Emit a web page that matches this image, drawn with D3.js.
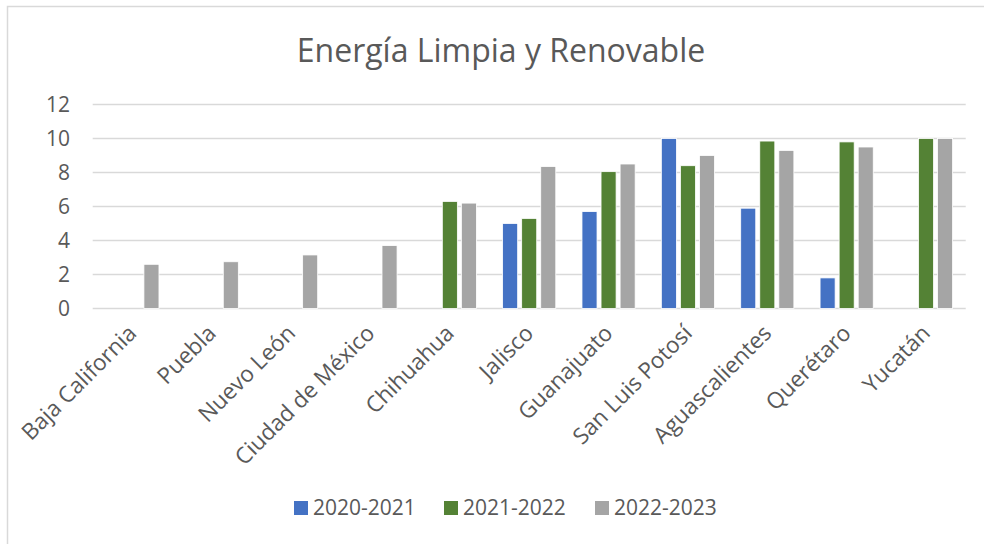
<!DOCTYPE html>
<html>
<head>
<meta charset="utf-8">
<script src="https://cdn.jsdelivr.net/npm/d3@7"></script>
<style>
  body { margin: 0; background: #fff; }
  text { font-family: "Open Sans", sans-serif; fill: #595959; }
</style>
</head>
<body>
<svg id="chart" width="984" height="544"></svg>
<script>
var states = ["Baja California", "Puebla", "Nuevo León", "Ciudad de México", "Chihuahua",
  "Jalisco", "Guanajuato", "San Luis Potosí", "Aguascalientes", "Querétaro", "Yucatán"];
var periods = ["2020-2021", "2021-2022", "2022-2023"];
// null = no bar
var v2020 = [null, null, null, null, null, 5.0, 5.7, 10.0, 5.9, 1.8, null];
var v2021 = [null, null, null, null, 6.3, 5.3, 8.05, 8.4, 9.85, 9.8, 10.0];
var v2022 = [2.6, 2.75, 3.15, 3.7, 6.2, 8.35, 8.5, 9.0, 9.3, 9.5, 10.0];
var yTicks = [0, 2, 4, 6, 8, 10, 12];
var colors = ["#4472C4", "#548235", "#A5A5A5"];

var svg = d3.select("#chart");
var margin = { top: 104.5, left: 92.7, right: 18.3, bottom: 235.5 };
var width = 984, height = 544;

// outer chart border (runs off right/bottom like the source)
svg.append("path")
  .attr("d", "M7.5,544 V6.5 H984")
  .attr("fill", "none")
  .attr("stroke", "#d9d9d9")
  .attr("stroke-width", 1.5);

svg.append("text")
  .attr("x", 501)
  .attr("y", 62)
  .attr("text-anchor", "middle")
  .style("font-size", "32px")
  .text("Energía Limpia y Renovable");

var x0 = d3.scaleBand()
  .domain(states)
  .range([margin.left, width - margin.right])
  .paddingInner(0.33)
  .paddingOuter(0.165);

var x1 = d3.scaleBand()
  .domain(periods)
  .range([0, x0.bandwidth()])
  .paddingInner(0.21)
  .paddingOuter(0);

var y = d3.scaleLinear()
  .domain([0, 12])
  .range([height - margin.bottom, margin.top]);

// gridlines
svg.append("g")
  .selectAll("line")
  .data(yTicks)
  .join("line")
  .attr("x1", margin.left)
  .attr("x2", width - margin.right)
  .attr("y1", d => y(d))
  .attr("y2", d => y(d))
  .attr("stroke", "#d9d9d9")
  .attr("stroke-width", 1.5);

var yAxis = svg.append("g")
  .attr("transform", `translate(70,0)`)
  .call(d3.axisLeft(y).tickValues(yTicks).tickSize(0).tickPadding(0));
yAxis.select(".domain").remove();
yAxis.selectAll("text")
  .attr("fill", "#595959")
  .style("font-family", "Open Sans")
  .style("font-size", "21px");

var series = [v2020, v2021, v2022];
var data = [];
states.forEach(function(s, i) {
  periods.forEach(function(p, j) {
    if (series[j][i] != null) data.push({ state: s, period: p, value: series[j][i], c: colors[j] });
  });
});

svg.append("g")
  .selectAll("rect")
  .data(data)
  .join("rect")
  .attr("x", d => x0(d.state) + x1(d.period))
  .attr("width", x1.bandwidth())
  .attr("y", d => y(d.value))
  .attr("height", d => y(0) - y(d.value))
  .attr("fill", d => d.c)
  .attr("stroke", "#ffffff")
  .attr("stroke-width", 0.8);

// category labels
svg.append("g")
  .selectAll("text")
  .data(states)
  .join("text")
  .attr("transform", d => `translate(${x0(d) + x0.bandwidth() / 2},329) rotate(-45)`)
  .attr("text-anchor", "end")
  .attr("dy", "0.35em")
  .style("font-size", "22.5px")
  .text(d => d);

// legend
var legendX = [294, 444, 595];
var legend = svg.append("g")
  .selectAll("g")
  .data(periods)
  .join("g")
  .attr("transform", (d, i) => `translate(${legendX[i]},501)`);
legend.append("rect")
  .attr("width", 14)
  .attr("height", 14)
  .attr("fill", (d, i) => colors[i]);
legend.append("text")
  .attr("x", 19)
  .attr("y", 13.5)
  .style("font-size", "21px")
  .text(d => d);
</script>
</body>
</html>
